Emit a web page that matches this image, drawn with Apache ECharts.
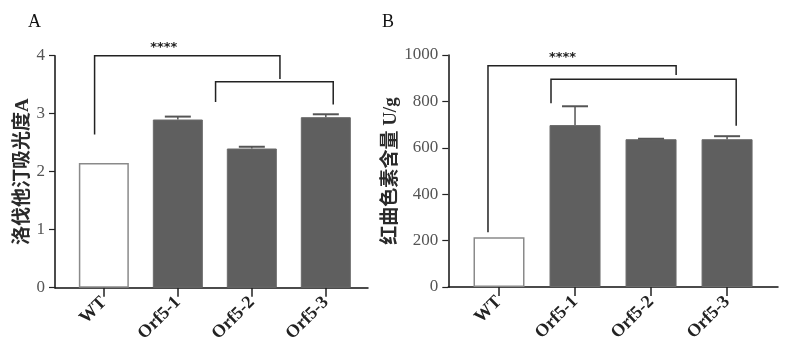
<!DOCTYPE html>
<html><head><meta charset="utf-8">
<script src="https://cdn.jsdelivr.net/npm/echarts@6/dist/echarts.min.js"></script>
<style>html,body{margin:0;padding:0;background:#fff}#c{width:790px;height:357px}</style>
</head><body><div id="c"></div>
<script>
// ---- data ----
const categories = ['WT', 'Orf5-1', 'Orf5-2', 'Orf5-3'];
const valuesA = [2.15, 2.90, 2.40, 2.94];
const errA = [0, 0.05, 0.03, 0.05];
const valuesB = [214, 698, 637, 637];
const errB = [0, 81, 2, 13];
const yTicksA = [0, 1, 2, 3, 4];
const yTicksB = [0, 200, 400, 600, 800, 1000];
// brackets: [xLeft, xRight, yTop, yLeftEnd, yRightEnd]
const bracketsA = [[-0.125, 2.38, 4.0, 2.64, 3.6], [1.51, 3.1, 3.55, 3.2, 3.16]];
const bracketsB = [[-0.145, 2.33, 954, 236, 914], [0.684, 3.12, 895, 792, 695]];
const starsA = [[0.81, 4.0, '****']];
const starsB = [[0.836, 954, '****']];
const titleA = 'A', titleB = 'B';
const yNameA = '洛伐他汀吸光度A';
const yNameB = '红曲色素含量 U/g';

// ---- chart ----
const serif = "'Liberation Serif', 'Times New Roman', 'Noto Sans CJK SC', serif";
const chart = echarts.init(document.getElementById('c'));

function barItems(vals) {
  return vals.map((v, i) => ({
    value: [i, v],
    itemStyle: i === 0
      ? { color: '#ffffff', borderColor: '#8a8a8a', borderWidth: 1.5 }
      : { color: '#5f5f5f', borderColor: '#6a6a6a', borderWidth: 1 }
  }));
}

function xAxis(gi, min, max) {
  return {
    gridIndex: gi, type: 'value', min: min, max: max,
    splitLine: { show: false },
    axisLine: { onZero: false, lineStyle: { color: '#111', width: 1.5 } },
    axisTick: { customValues: [0, 1, 2, 3], length: 9, lineStyle: { color: '#222', width: 1.5 } },
    axisLabel: {
      customValues: [0, 1, 2, 3], rotate: 45, margin: 12,
      formatter: v => categories[Math.round(v)],
      fontFamily: serif, fontWeight: 'bold', fontSize: 18, color: '#222'
    }
  };
}
function yAxis(gi, max, interval, name, gap) {
  return {
    gridIndex: gi, type: 'value', min: 0, max: max, interval: interval,
    name: name, nameLocation: 'middle', nameGap: gap, nameRotate: 90,
    nameTextStyle: { fontFamily: serif, fontSize: 19, fontWeight: 'bold', color: '#2a2a2a' },
    splitLine: { show: false },
    axisLine: { show: true, onZero: false, lineStyle: { color: '#111', width: 1.5 } },
    axisTick: { show: true, length: 6, lineStyle: { color: '#222', width: 1.2 } },
    axisLabel: { fontFamily: serif, fontSize: 17, color: '#555', margin: 10, formatter: v => String(v) }
  };
}

function errSeries(gi, vals, errs) {
  return {
    type: 'custom', xAxisIndex: gi, yAxisIndex: gi, z: 5,
    data: vals.map((v, i) => [i, v, errs[i]]),
    renderItem: (params, api) => {
      const x = api.value(0), v = api.value(1), e = api.value(2);
      if (!e) return null;
      const p0 = api.coord([x, v]);
      const p1 = api.coord([x, v + e]);
      const cw = 13;
      return { type: 'group', children: [
        { type: 'line', shape: { x1: p0[0], y1: p0[1], x2: p1[0], y2: p1[1] }, style: { stroke: '#555', lineWidth: 1.5 } },
        { type: 'line', shape: { x1: p1[0] - cw, y1: p1[1], x2: p1[0] + cw, y2: p1[1] }, style: { stroke: '#555', lineWidth: 2 } }
      ]};
    }
  };
}
function bracketSeries(gi, brackets) {
  return {
    type: 'custom', xAxisIndex: gi, yAxisIndex: gi, z: 6,
    data: brackets,
    renderItem: (params, api) => {
      const a = api.coord([api.value(0), api.value(3)]);
      const b = api.coord([api.value(0), api.value(2)]);
      const c = api.coord([api.value(1), api.value(2)]);
      const d = api.coord([api.value(1), api.value(4)]);
      return { type: 'polyline', shape: { points: [a, b, c, d] }, style: { stroke: '#222', lineWidth: 1.5, fill: null } };
    }
  };
}
function starSeries(gi, stars) {
  return {
    type: 'custom', xAxisIndex: gi, yAxisIndex: gi, z: 7,
    data: stars,
    renderItem: (params, api) => {
      const p = api.coord([api.value(0), api.value(1)]);
      return { type: 'text', x: p[0], y: p[1] - 2,
        style: { text: stars[params.dataIndex][2], fontSize: 13, fontWeight: 'bold', fontFamily: "'DejaVu Sans', sans-serif", fill: '#222', align: 'center', verticalAlign: 'bottom' } };
    }
  };
}

chart.setOption({
  animation: false,
  backgroundColor: '#fff',
  title: [
    { text: titleA, left: 23, top: 8, textStyle: { fontFamily: serif, fontSize: 18, fontWeight: 'normal', color: '#111' } },
    { text: titleB, left: 377, top: 8, textStyle: { fontFamily: serif, fontSize: 18, fontWeight: 'normal', color: '#111' } }
  ],
  grid: [
    { left: 55, top: 55.7, width: 313, height: 232 },
    { left: 448.3, top: 55, width: 329.7, height: 232 }
  ],
  xAxis: [xAxis(0, -0.66, 3.57), xAxis(1, -0.667, 3.67)],
  yAxis: [yAxis(0, yTicksA[yTicksA.length - 1], yTicksA[1] - yTicksA[0], yNameA, 18),
          yAxis(1, yTicksB[yTicksB.length - 1], yTicksB[1] - yTicksB[0], yNameB, 40)],
  series: [
    { type: 'bar', xAxisIndex: 0, yAxisIndex: 0, barWidth: 50, data: barItems(valuesA) },
    { type: 'bar', xAxisIndex: 1, yAxisIndex: 1, barWidth: 51, data: barItems(valuesB) },
    errSeries(0, valuesA, errA), errSeries(1, valuesB, errB),
    bracketSeries(0, bracketsA), bracketSeries(1, bracketsB),
    starSeries(0, starsA), starSeries(1, starsB)
  ]
});
</script></body></html>
